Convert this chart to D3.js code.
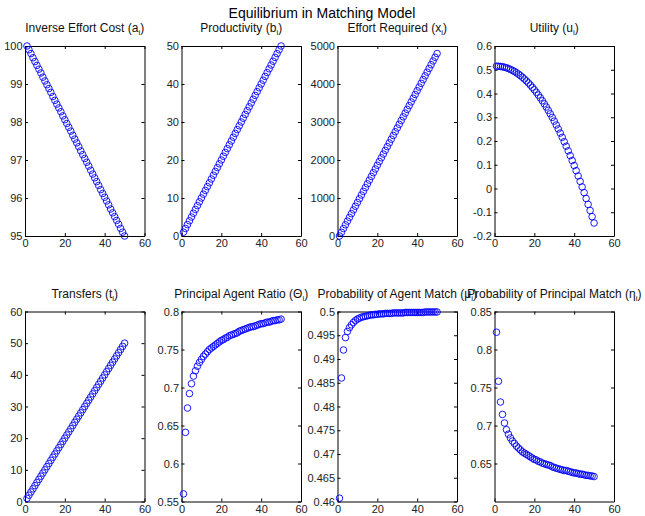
<!DOCTYPE html>
<html>
<head>
<meta charset="utf-8">
<script src="https://cdn.jsdelivr.net/npm/d3@7"></script>
<style>
  body { margin: 0; background: #fff; }
  text { font-family: "Liberation Sans", Arial, Helvetica, sans-serif; }
</style>
</head>
<body>
<svg id="fig" width="645" height="516"></svg>
<script>
// agent index
const agents = [1,2,3,4,5,6,7,8,9,10,11,12,13,14,15,16,17,18,19,20,21,22,23,24,25,
  26,27,28,29,30,31,32,33,34,35,36,37,38,39,40,41,42,43,44,45,46,47,48,49,50];

// series
const effortCost = [100,99.90,99.80,99.69,99.59,99.49,99.39,99.29,99.18,99.08,
  98.98,98.88,98.78,98.67,98.57,98.47,98.37,98.27,98.16,98.06,
  97.96,97.86,97.76,97.65,97.55,97.45,97.35,97.24,97.14,97.04,
  96.94,96.84,96.73,96.63,96.53,96.43,96.33,96.22,96.12,96.02,
  95.92,95.82,95.71,95.61,95.51,95.41,95.31,95.20,95.10,95.00];

const productivity = [1,2,3,4,5,6,7,8,9,10,11,12,13,14,15,16,17,18,19,20,21,22,23,24,25,
  26,27,28,29,30,31,32,33,34,35,36,37,38,39,40,41,42,43,44,45,46,47,48,49,50];

const effort = [0,98,196,294,392,490,588,686,784,882,
  980,1078,1176,1274,1372,1470,1568,1666,1764,1862,
  1960,2058,2156,2254,2352,2450,2548,2646,2744,2842,
  2940,3038,3136,3234,3332,3430,3528,3626,3724,3822,
  3920,4018,4116,4214,4312,4410,4508,4606,4704,4802];

const utility = [0.515,0.5147,0.5139,0.5125,0.5106,0.5081,0.5051,0.5015,0.4974,0.4927,
  0.4875,0.4817,0.4754,0.4685,0.4611,0.4531,0.4446,0.4355,0.4259,0.4157,
  0.405,0.3937,0.3819,0.3695,0.3566,0.3431,0.3291,0.3145,0.2994,0.2837,
  0.2675,0.2507,0.2334,0.2155,0.1971,0.1781,0.1586,0.1385,0.1179,0.0967,
  0.075,0.0527,0.0299,0.0065,-0.0174,-0.0419,-0.0669,-0.0925,-0.1186,-0.1453];

const transfers = [1,2,3,4,5,6,7,8,9,10,11,12,13,14,15,16,17,18,19,20,21,22,23,24,25,
  26,27,28,29,30,31,32,33,34,35,36,37,38,39,40,41,42,43,44,45,46,47,48,49,50];

const ratio = [0.560,0.641,0.673,0.692,0.705,0.715,0.722,0.728,0.733,0.737,
  0.741,0.744,0.747,0.750,0.752,0.754,0.756,0.758,0.760,0.762,
  0.763,0.765,0.766,0.768,0.769,0.770,0.771,0.772,0.774,0.775,
  0.776,0.777,0.778,0.779,0.780,0.780,0.781,0.782,0.783,0.784,
  0.784,0.785,0.786,0.786,0.787,0.788,0.788,0.789,0.789,0.790];

const agentMatch = [0.4607,0.4860,0.4919,0.4945,0.4958,0.4966,0.4972,0.4977,0.4981,0.4984,
  0.4986,0.4988,0.4989,0.4990,0.4991,0.4992,0.4993,0.4993,0.4994,0.4994,
  0.4995,0.4995,0.4995,0.4996,0.4996,0.4996,0.4996,0.4997,0.4997,0.4997,
  0.4997,0.4997,0.4997,0.4998,0.4998,0.4998,0.4998,0.4998,0.4998,0.4998,
  0.4998,0.4998,0.4998,0.4999,0.4999,0.4999,0.4999,0.4999,0.4999,0.4999];

const principalMatch = [0.8227,0.7582,0.7309,0.7146,0.7033,0.6945,0.6886,0.6837,0.6795,0.6763,
  0.6729,0.6704,0.6679,0.6653,0.6637,0.6621,0.6605,0.6587,0.6571,0.6554,
  0.6547,0.6529,0.6521,0.6505,0.6497,0.6488,0.6480,0.6473,0.6456,0.6448,
  0.6439,0.6431,0.6423,0.6416,0.6408,0.6408,0.6399,0.6391,0.6383,0.6375,
  0.6375,0.6367,0.6359,0.6360,0.6352,0.6344,0.6344,0.6336,0.6336,0.6328];

// tick labels
const xTicks = [0, 20, 40, 60];
const costTicks = [95, 96, 97, 98, 99, 100];
const prodTicks = [0, 10, 20, 30, 40, 50];
const effortTicks = [0, 1000, 2000, 3000, 4000, 5000];
const utilTicks = [-0.2, -0.1, 0, 0.1, 0.2, 0.3, 0.4, 0.5, 0.6];
const transferTicks = [0, 10, 20, 30, 40, 50, 60];
const ratioTicks = [0.55, 0.6, 0.65, 0.7, 0.75, 0.8];
const agentTicks = [0.46, 0.465, 0.47, 0.475, 0.48, 0.485, 0.49, 0.495, 0.5];
const principalTicks = [0.65, 0.7, 0.75, 0.8, 0.85];

const panels = [
  {title: "Inverse Effort Cost (a", values: effortCost, domain: [95, 100], ticks: costTicks},
  {title: "Productivity (b", values: productivity, domain: [0, 50], ticks: prodTicks},
  {title: "Effort Required (x", values: effort, domain: [0, 5000], ticks: effortTicks},
  {title: "Utility (u", values: utility, domain: [-0.2, 0.6], ticks: utilTicks},
  {title: "Transfers (t", values: transfers, domain: [0, 60], ticks: transferTicks},
  {title: "Principal Agent Ratio (\u0398", values: ratio, domain: [0.55, 0.8], ticks: ratioTicks},
  {title: "Probability of Agent Match (\u03bc", values: agentMatch, domain: [0.46, 0.5], ticks: agentTicks},
  {title: "Probability of Principal Match (\u03b7", values: principalMatch, domain: [0.6, 0.85], ticks: principalTicks}
];

const svg = d3.select("#fig");
const fontFam = "Liberation Sans, Arial, Helvetica, sans-serif";

svg.append("text")
    .text("Equilibrium in Matching Model")
    .attr("x", 322)
    .attr("y", 18)
    .attr("text-anchor", "middle")
    .style("font-size", "14px")
    .attr("fill", "black");

const panelW = 119.5, panelH = 190;
const lefts = [25, 181.5, 337.5, 494.5];
const tops = [46, 311.5];

function fmt(d) {
  return String(d);   // plain hyphen minus, like matlab
}

panels.forEach(function(p, k) {
  const x0 = lefts[k % 4];
  const y0 = tops[Math.floor(k / 4)];
  const g = svg.append("g").attr("transform", "translate(" + x0 + "," + y0 + ")");

  const x = d3.scaleLinear().domain([0, 60]).range([0, panelW]);
  const y = d3.scaleLinear().domain(p.domain).range([panelH, 0]);

  const bottom = g.append("g")
      .attr("transform", "translate(0," + panelH + ")")
      .call(d3.axisBottom(x).tickValues(xTicks).tickSize(-3).tickSizeOuter(0).tickPadding(3.5));
  const left = g.append("g")
      .call(d3.axisLeft(y).tickValues(p.ticks).tickFormat(fmt).tickSize(-3).tickSizeOuter(0).tickPadding(2.5));
  g.append("g")
      .call(d3.axisTop(x).tickValues(xTicks).tickFormat("").tickSize(-3).tickSizeOuter(0));
  g.append("g")
      .attr("transform", "translate(" + panelW + ",0)")
      .call(d3.axisRight(y).tickValues(p.ticks).tickFormat("").tickSize(-3).tickSizeOuter(0));

  g.selectAll(".domain, .tick line").attr("stroke", "black");
  [bottom, left].forEach(function(a) {
    a.attr("font-family", fontFam).attr("font-size", 11);
    a.selectAll("text").attr("fill", "#222");
  });

  g.selectAll("circle.pt")
      .data(p.values)
      .join("circle")
      .attr("class", "pt")
      .attr("cx", function(d, i) { return x(agents[i]); })
      .attr("cy", function(d) { return y(d); })
      .attr("r", 3.3)
      .attr("fill", "none")
      .attr("stroke", "#0000ff")
      .attr("stroke-width", 0.9);

  const t = g.append("text")
      .attr("x", panelW / 2)
      .attr("y", -14)
      .attr("text-anchor", "middle")
      .style("font-size", "12px")
      .attr("fill", "#111");
  t.append("tspan").text(p.title);
  t.append("tspan").text("i").style("font-size", "8px").attr("dy", 3);
  t.append("tspan").text(")").attr("dy", -3);
});
</script>
</body>
</html>
